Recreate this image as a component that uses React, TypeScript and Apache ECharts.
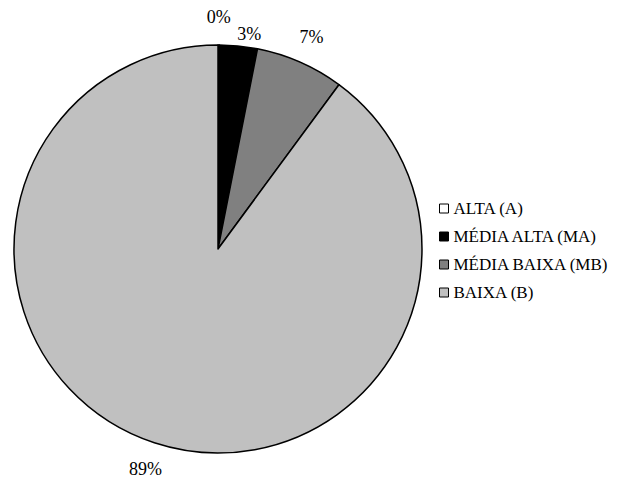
import React, { useEffect, useRef } from "react";
import * as echarts from "echarts";

const categories = ["ALTA (A)", "MÉDIA ALTA (MA)", "MÉDIA BAIXA (MB)", "BAIXA (B)"];
const values = [0.1, 3.0, 7.0, 89.9];
const colors = ["#ffffff", "#000000", "#808080", "#c0c0c0"];

export default function App() {
  const ref = useRef<HTMLDivElement>(null);
  useEffect(() => {
    if (!ref.current) return;
    const chart = echarts.init(ref.current, null, { renderer: "svg" });
    const font = "Liberation Serif";
    chart.setOption({
      animation: false,
      backgroundColor: "#ffffff",
      legend: {
        orient: "vertical",
        left: 434,
        top: 195,
        itemWidth: 9,
        itemHeight: 9,
        itemGap: 11,
        icon: "rect",
        data: categories,
        itemStyle: { borderColor: "#000", borderWidth: 1 },
        textStyle: { fontFamily: font, fontSize: 17, color: "#000", lineHeight: 17 },
      },
      series: [
        {
          type: "pie",
          center: [218, 249],
          radius: 204,
          startAngle: 90,
          clockwise: true,
          itemStyle: { borderColor: "#000", borderWidth: 1.5 },
          label: { show: false },
          labelLine: { show: false },
          data: categories.map((c, i) => ({
            name: c,
            value: values[i],
            itemStyle: { color: colors[i] },
          })),
        },
        {
          type: "pie",
          center: [218, 249],
          radius: [225, 233],
          startAngle: 90,
          clockwise: true,
          silent: true,
          avoidLabelOverlap: false,
          itemStyle: { color: "rgba(0,0,0,0)", borderWidth: 0 },
          label: {
            show: true,
            position: "inside",
            fontFamily: font,
            fontSize: 18,
            color: "#000",
            formatter: (p: any) => `${Math.floor(p.value)}%`,
          },
          labelLine: { show: false },
          data: categories.map((c, i) => ({
            name: c,
            value: values[i],
            // the small neighbouring label is nudged clear of the "0%" label, as in the reference
            label: i === 1 ? { offset: [8, 16] } : undefined,
          })),
        },
      ],
    });
    return () => chart.dispose();
  }, []);
  return (
    <div
      ref={ref}
      style={{ position: "absolute", left: 0, top: 0, width: 633, height: 479 }}
    />
  );
}
